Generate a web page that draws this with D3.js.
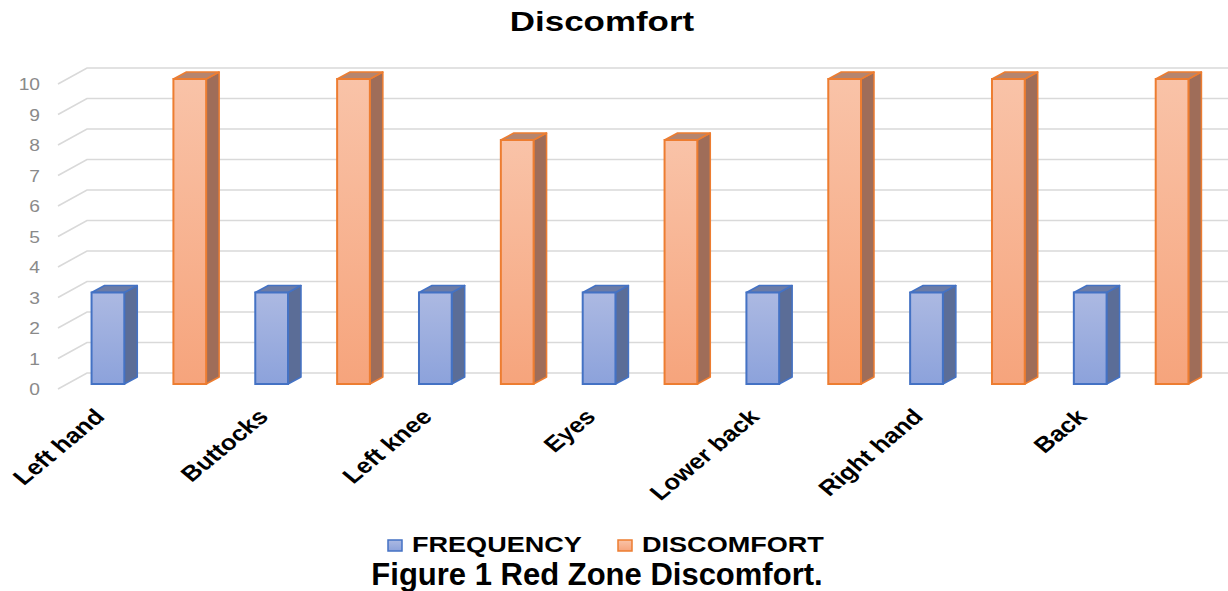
<!DOCTYPE html>
<html>
<head>
<meta charset="utf-8">
<script src="https://cdn.jsdelivr.net/npm/d3@7"></script>
<style>
  body { margin: 0; background: #fff; }
  text { font-family: "Liberation Sans", Arial, sans-serif; }
</style>
</head>
<body>
<svg width="1228" height="591"></svg>
<script>
// data
var categories = ["Left hand", "Buttocks", "Left knee", "Eyes", "Lower back", "Right hand", "Back"];
var seriesNames = ["FREQUENCY", "DISCOMFORT"];
var frequency = [3, 3, 3, 3, 3, 3, 3];
var discomfort = [10, 10, 8, 8, 10, 10, 10];
var yTicks = [0, 1, 2, 3, 4, 5, 6, 7, 8, 9, 10];

var svg = d3.select("svg"),
    width = +svg.attr("width"),
    height = +svg.attr("height");

// the original picture is stretched sideways, so text gets a small x scale
var stretch = 1.2;

// 3d offsets
var depthX = 13, depthY = -7;     // bar depth
var wallX = 29, wallY = -16;      // floor / wall depth

var x = d3.scaleBand().domain(categories).range([67, 1213]);
var x1 = d3.scaleBand().domain(seriesNames).range([0, x.bandwidth()])
    .paddingInner(0.6).paddingOuter(0.3);
var y = d3.scaleLinear().domain([0, 10]).range([384, 79]);

var colors = {
    FREQUENCY: { top: "#6c7ca6", side: "#5b6d97", stroke: "#4472c4", g1: "#acb9e2", g2: "#8ca2db" },
    DISCOMFORT: { top: "#b5856f", side: "#9f6d59", stroke: "#ed7d31", g1: "#f9c3a8", g2: "#f6a47c" }
};

var defs = svg.append("defs");
seriesNames.forEach(function(s, i) {
    var g = defs.append("linearGradient").attr("id", "grad" + i)
        .attr("x1", 0).attr("y1", 0).attr("x2", 0).attr("y2", 1);
    g.append("stop").attr("offset", "0%").attr("stop-color", colors[s].g1);
    g.append("stop").attr("offset", "100%").attr("stop-color", colors[s].g2);
});

// gridlines: short diagonal on the left wall, then along the back wall
var grid = svg.append("g").attr("class", "grid");
grid.selectAll("path")
    .data(yTicks)
    .enter().append("path")
    .attr("d", function(v) {
        var yb = y(v) - 11;
        return "M58," + (yb - wallY) + "L" + (58 + wallX) + "," + yb + "H" + width;
    })
    .attr("fill", "none")
    .attr("stroke", "#d9d9d9")
    .attr("stroke-width", 1.6);

// y tick labels
svg.append("g").selectAll("text")
    .data(yTicks)
    .enter().append("text")
    .attr("transform", function(v) { return "translate(40," + (y(v) + 7) + ") scale(" + stretch + ",1)"; })
    .attr("text-anchor", "end")
    .attr("dominant-baseline", "middle")
    .attr("fill", "#8a8a8a")
    .attr("font-size", "16px")
    .text(function(v) { return v; });

// bars
var rows = [];
categories.forEach(function(c, i) {
    rows.push({ cat: c, series: "FREQUENCY", idx: 0, value: frequency[i] });
    rows.push({ cat: c, series: "DISCOMFORT", idx: 1, value: discomfort[i] });
});

var bw = x1.bandwidth();
var bar = svg.append("g").attr("class", "bars")
    .selectAll("g")
    .data(rows)
    .enter().append("g");

bar.append("path") // side
    .attr("d", function(d) {
        var x0 = x(d.cat) + x1(d.series) + bw, yt = y(d.value), yb = y(0);
        return "M" + x0 + "," + yt + "l" + depthX + "," + depthY + "V" + (yb + depthY) + "l" + (-depthX) + "," + (-depthY) + "Z";
    })
    .attr("fill", function(d) { return colors[d.series].side; })
    .attr("stroke", function(d) { return colors[d.series].stroke; })
    .attr("stroke-width", 1.5)
    .attr("stroke-linejoin", "round");

bar.append("path") // top
    .attr("d", function(d) {
        var x0 = x(d.cat) + x1(d.series), yt = y(d.value);
        return "M" + x0 + "," + yt + "l" + depthX + "," + depthY + "h" + bw + "l" + (-depthX) + "," + (-depthY) + "Z";
    })
    .attr("fill", function(d) { return colors[d.series].top; })
    .attr("stroke", function(d) { return colors[d.series].stroke; })
    .attr("stroke-width", 1.5)
    .attr("stroke-linejoin", "round");

bar.append("rect") // front
    .attr("x", function(d) { return x(d.cat) + x1(d.series); })
    .attr("y", function(d) { return y(d.value); })
    .attr("width", bw)
    .attr("height", function(d) { return y(0) - y(d.value); })
    .attr("fill", function(d) { return "url(#grad" + d.idx + ")"; })
    .attr("stroke", function(d) { return colors[d.series].stroke; })
    .attr("stroke-width", 2);

// category labels
svg.append("g").selectAll("text")
    .data(categories)
    .enter().append("text")
    .attr("transform", function(c) {
        return "translate(" + (x(c) + x.bandwidth() / 2 - 43) + ",418) scale(" + stretch + ",1) rotate(-45)";
    })
    .attr("text-anchor", "end")
    .attr("font-size", "21.5px")
    .attr("font-weight", "bold")
    .attr("fill", "#000")
    .text(function(c) { return c; });

// title
svg.append("text")
    .attr("transform", "translate(602,31) scale(1.27,1)")
    .attr("text-anchor", "middle")
    .attr("font-size", "27.5px")
    .attr("font-weight", "bold")
    .text("Discomfort");

// legend
var legendX = [388, 618];
var legend = svg.append("g").selectAll("g")
    .data(seriesNames)
    .enter().append("g")
    .attr("transform", function(s, i) { return "translate(" + legendX[i] + ",540)"; });
legend.append("rect")
    .attr("width", 14).attr("height", 11)
    .attr("fill", function(s, i) { return "url(#grad" + i + ")"; })
    .attr("stroke", function(s) { return colors[s].stroke; })
    .attr("stroke-width", 1.5);
legend.append("text")
    .attr("transform", "translate(24,12) scale(1.23,1)")
    .attr("font-size", "22px")
    .attr("font-weight", "bold")
    .text(function(s) { return s; });

// caption
svg.append("text")
    .attr("x", 597)
    .attr("y", 585)
    .attr("text-anchor", "middle")
    .attr("font-size", "31px")
    .attr("font-weight", "bold")
    .text("Figure 1 Red Zone Discomfort.");
</script>
</body>
</html>
